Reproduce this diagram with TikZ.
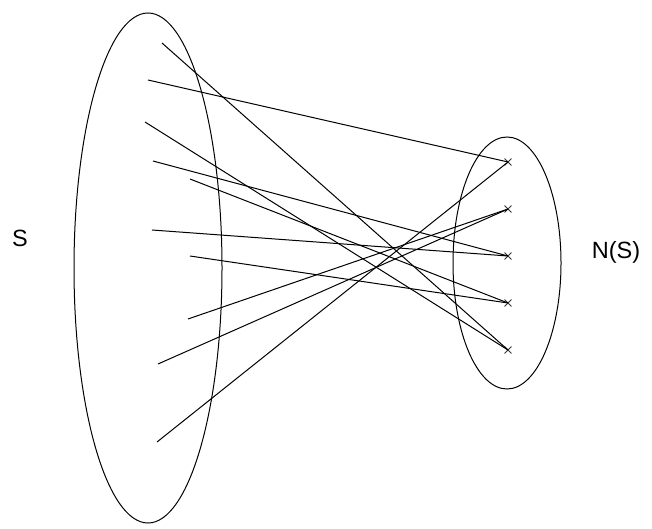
\documentclass[tikz,border=0pt]{standalone}
\usepackage{fontspec}
\setmainfont{Liberation Sans}
\usetikzlibrary{shapes.misc}
\begin{document}
\begin{tikzpicture}[x=1pt,y=-1pt,line width=1pt,
  xmark/.style={cross out,draw,minimum size=6pt,inner sep=0pt,line width=0.9pt,draw=black!80},
  edge/.style={draw=black,line width=1pt},
  lbl/.style={font=\fontsize{23.5}{26}\selectfont,inner sep=0pt}]
\useasboundingbox (0,0) rectangle (652,529);
\draw (148,268) ellipse [x radius=74, y radius=255];
\draw (507,263) ellipse [x radius=54, y radius=126];
\node[lbl] (S) at (20,238) {S};
\node[lbl] (NS) at (616,252) {N(S)};
\node[xmark] (m1) at (508,162) {};
\node[xmark] (m2) at (508,209) {};
\node[xmark] (m3) at (508,256) {};
\node[xmark] (m4) at (508,303) {};
\node[xmark] (m5) at (508,350) {};
\coordinate (l1) at (162,43);
\coordinate (l2) at (148,80);
\coordinate (l3) at (145,122);
\coordinate (l4) at (153,161);
\coordinate (l5) at (190,179);
\coordinate (l6) at (152,230);
\coordinate (l7) at (190,256);
\coordinate (l8) at (188,319);
\coordinate (l9) at (158,364);
\coordinate (l10) at (157,442);
\draw[edge] (l1) -- (m5.center);
\draw[edge] (l2) -- (m1.center);
\draw[edge] (l3) -- (m5.center);
\draw[edge] (l4) -- (m3.center);
\draw[edge] (l5) -- (m4.center);
\draw[edge] (l6) -- (m3.center);
\draw[edge] (l7) -- (m4.center);
\draw[edge] (l8) -- (m2.center);
\draw[edge] (l9) -- (m2.center);
\draw[edge] (l10) -- (m1.center);
\end{tikzpicture}
\end{document}
